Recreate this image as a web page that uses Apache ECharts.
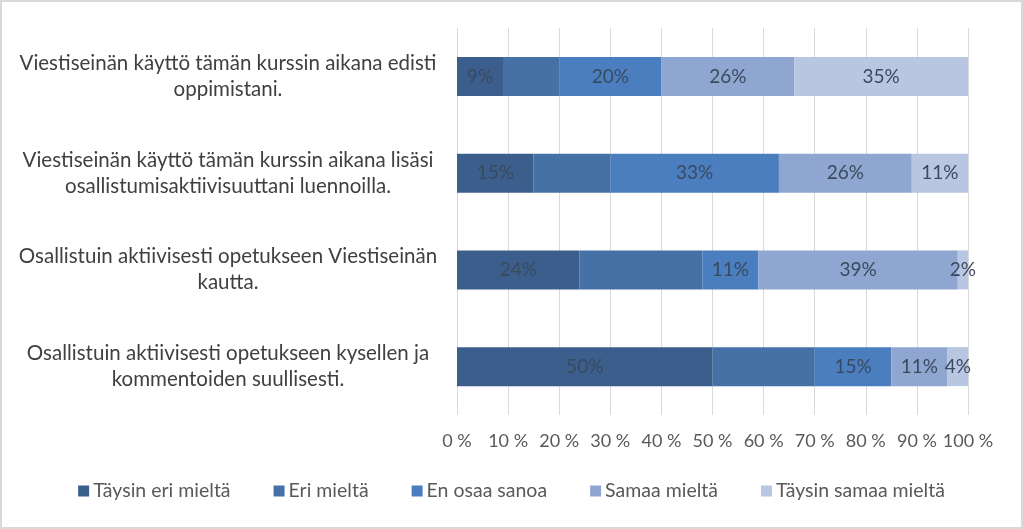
<!DOCTYPE html>
<html>
<head>
<meta charset="utf-8">
<script src="https://cdn.jsdelivr.net/npm/echarts@6/dist/echarts.min.js"></script>
<style>
html,body{margin:0;padding:0;background:#fff;}
#wrap{position:absolute;left:0;top:0;width:1019px;height:525px;border:2px solid #d9d9d9;}
#chart{width:1019px;height:525px;}
</style>
</head>
<body>
<div id="wrap"><div id="chart"></div></div>
<script>
const categories = [
  "Viestiseinän käyttö tämän kurssin aikana edisti\noppimistani.",
  "Viestiseinän käyttö tämän kurssin aikana lisäsi\nosallistumisaktiivisuuttani luennoilla.",
  "Osallistuin aktiivisesti opetukseen Viestiseinän\nkautta.",
  "Osallistuin aktiivisesti opetukseen kysellen ja\nkommentoiden suullisesti."
];
const seriesNames = ["Täysin eri mieltä", "Eri mieltä", "En osaa sanoa", "Samaa mieltä", "Täysin samaa mieltä"];
const taysinEri = [9, 15, 24, 50];
const eri = [11, 15, 24, 20];
const enOsaa = [20, 33, 11, 15];
const samaa = [26, 26, 39, 11];
const taysinSamaa = [35, 11, 2, 4];
const showLabel = [true, false, true, true, true];
const colors = ["#3b5e8c", "#4571a6", "#4b7ebf", "#8fa6d0", "#b9c6e2"];

const allData = [taysinEri, eri, enOsaa, samaa, taysinSamaa];
const font = "Lato, 'Open Sans', sans-serif";

const chart = echarts.init(document.getElementById('chart'));
chart.setOption({
  animation: false,
  textStyle: { fontFamily: font },
  color: colors,
  grid: { left: 455, right: 53, top: 26, bottom: 112, containLabel: false },
  xAxis: {
    type: 'value', min: 0, max: 100, interval: 10,
    axisLabel: { formatter: '{value} %', color: '#595959', fontSize: 18, fontFamily: font, margin: 17 },
    splitLine: { show: true, lineStyle: { color: '#d9d9d9', width: 1 } },
    axisLine: { show: false }, axisTick: { show: false }
  },
  yAxis: {
    type: 'category', data: categories, inverse: true,
    axisLabel: { color: '#404040', fontSize: 20.5, fontFamily: font, align: 'center', margin: 229, lineHeight: 26 },
    axisLine: { show: false }, axisTick: { show: false }
  },
  legend: {
    bottom: 21, left: 'center', itemWidth: 11, itemHeight: 11, itemGap: 43,
    icon: 'rect',
    textStyle: { color: '#595959', fontSize: 19.5, fontFamily: font, padding: [0, 0, 0, -1] }
  },
  series: seriesNames.map((name, i) => ({
    name: name, type: 'bar', stack: 'total', barWidth: 39,
    data: allData[i],
    label: {
      show: showLabel[i], position: 'inside', formatter: '{c}%',
      color: '#3a4a5e', fontSize: 19, fontFamily: font
    }
  }))
});
</script>
</body>
</html>
